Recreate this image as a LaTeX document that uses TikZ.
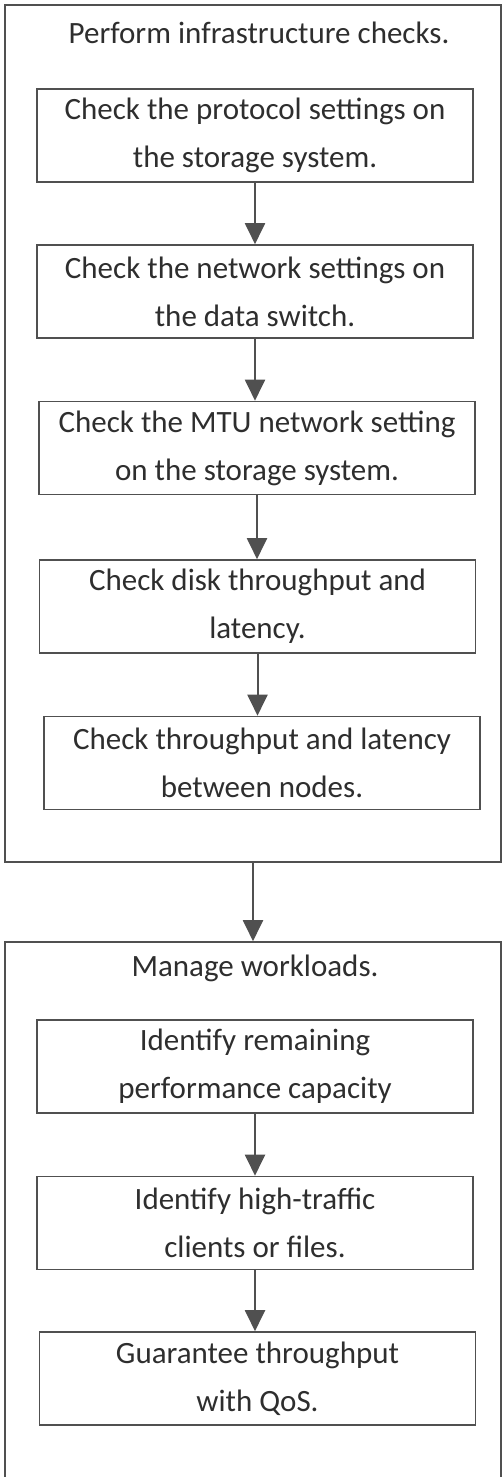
\documentclass[tikz,border=0pt]{standalone}
\usepackage{fontspec}
\setmainfont{Carlito}
\usetikzlibrary{arrows.meta}

\definecolor{linegray}{HTML}{505050}
\definecolor{textgray}{HTML}{2E2E2E}
\newcommand{\boxfont}{\fontsize{31}{48}\selectfont}

\begin{document}
\begin{tikzpicture}[x=1pt,y=-1pt]
  \tikzstyle{groupbox}=[draw=linegray, line width=1.6pt, rectangle, inner sep=0pt, minimum width=496pt]
  \tikzstyle{stepbox}=[draw=linegray, line width=1.6pt, rectangle, align=center, inner sep=0pt,
    minimum width=436pt, minimum height=93pt, font=\boxfont, text=textgray]
  \tikzstyle{title}=[font=\boxfont, text=textgray]
  \tikzstyle{flow}=[draw=linegray, line width=2pt, -{Triangle[length=21pt,width=20pt]}, fill=linegray]

  \useasboundingbox (0,0) rectangle (502,1477);
  \clip (0,0) rectangle (502,1477);

  \node[groupbox, minimum height=857pt] (Infra) at (253, 433.5) {};
  \node[title] (InfraTitle) at (259, 33) {Perform infrastructure checks.};

  \node[stepbox] (Protocol) at (255, 135.5) {Check the protocol settings on\\the storage system.};

  \node[stepbox] (Network) at (255, 291.5) {Check the network settings on\\the data switch.};

  \node[stepbox] (MTU) at (257, 448) {Check the MTU network setting\\on the storage system.};

  \node[stepbox] (Disk) at (257.5, 606.5) {Check disk throughput and\\latency.};

  \node[stepbox] (Nodes) at (262, 763) {Check throughput and latency\\between nodes.};

  \node[groupbox, minimum height=560pt] (Manage) at (253, 1222) {};
  \node[title] (ManageTitle) at (255, 968) {Manage workloads.};

  \node[stepbox] (Capacity) at (255, 1066.5) {Identify remaining\\performance capacity};

  \node[stepbox] (Traffic) at (255, 1223) {Identify high-traffic\\clients or files.};

  \node[stepbox] (QoS) at (257.5, 1378.5) {Guarantee throughput\\with QoS.};

  \draw[flow] (Protocol.south) -- (Protocol.south |- Network.north);
  \draw[flow] (Network.south) -- (Network.south |- MTU.north);
  \draw[flow] (MTU.south) -- (MTU.south |- Disk.north);
  \draw[flow] (Disk.south) -- (Disk.south |- Nodes.north);

  \draw[flow] (Infra.south) -- (Manage.north);

  \draw[flow] (Capacity.south) -- (Capacity.south |- Traffic.north);
  \draw[flow] (Traffic.south) -- (Traffic.south |- QoS.north);

\end{tikzpicture}
\end{document}
